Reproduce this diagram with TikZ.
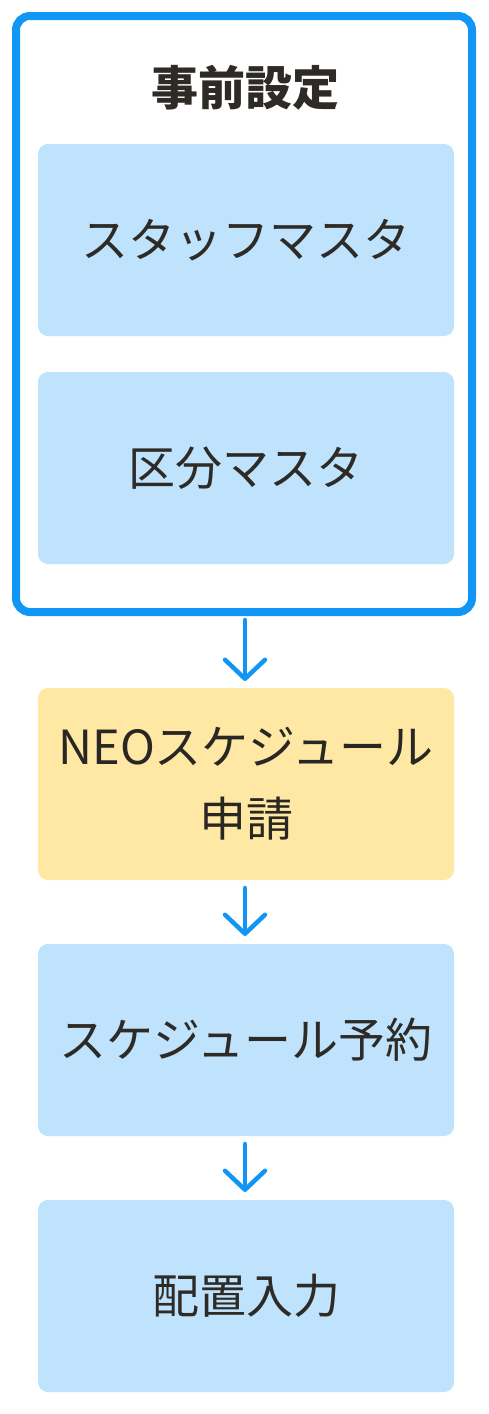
\documentclass[tikz,border=0pt]{standalone}
\usepackage{fontspec}
\newfontfamily\jp{Noto Sans CJK JP}
\usetikzlibrary{arrows.meta}
\definecolor{bord}{HTML}{1296F5}
\definecolor{lblue}{HTML}{BFE3FC}
\definecolor{lyel}{HTML}{FFE8A4}
\definecolor{txt}{HTML}{2E2B27}
\begin{document}
\begin{tikzpicture}[x=1pt,y=-1pt,
  stepbox/.style={rounded corners=10pt, inner sep=0pt, outer sep=0pt, minimum width=416pt, minimum height=192pt, anchor=north west, align=center, font=\jp\fontsize{47}{72}\selectfont, text=txt},
  flow/.style={draw=bord, line width=4.5pt, line cap=round, -{Straight Barb[length=19pt,width=40pt,line width=4.5pt,round]}}]
\useasboundingbox (0,0) rectangle (488,1414);
\node[draw=bord, line width=8pt, rounded corners=14pt, minimum width=456pt, minimum height=596pt, anchor=north west, inner sep=0pt, outer sep=0pt] (outer) at (16,16) {};
\node[font=\jp\bfseries\fontsize{47}{52}\selectfont, text=txt] (title) at (245,88) {事前設定};
\node[stepbox, fill=lblue] (b1) at (38,144) {スタッフマスタ};
\node[stepbox, fill=lblue] (b2) at (38,372) {区分マスタ};
\node[stepbox, fill=lyel, text=txt!90!black] (b3) at (38,688) {NEOスケジュール\\申請};
\node[stepbox, fill=lblue] (b4) at (38,944) {スケジュール予約};
\node[stepbox, fill=lblue] (b5) at (38,1200) {配置入力};
\coordinate (a1s) at (245,620);
\coordinate (a1e) at (245,681);
\coordinate (a2s) at (245,888);
\coordinate (a2e) at (245,936);
\coordinate (a3s) at (245,1144);
\coordinate (a3e) at (245,1192);
\draw[flow] (a1s) -- (a1e);
\draw[flow] (a2s) -- (a2e);
\draw[flow] (a3s) -- (a3e);
\end{tikzpicture}
\end{document}
